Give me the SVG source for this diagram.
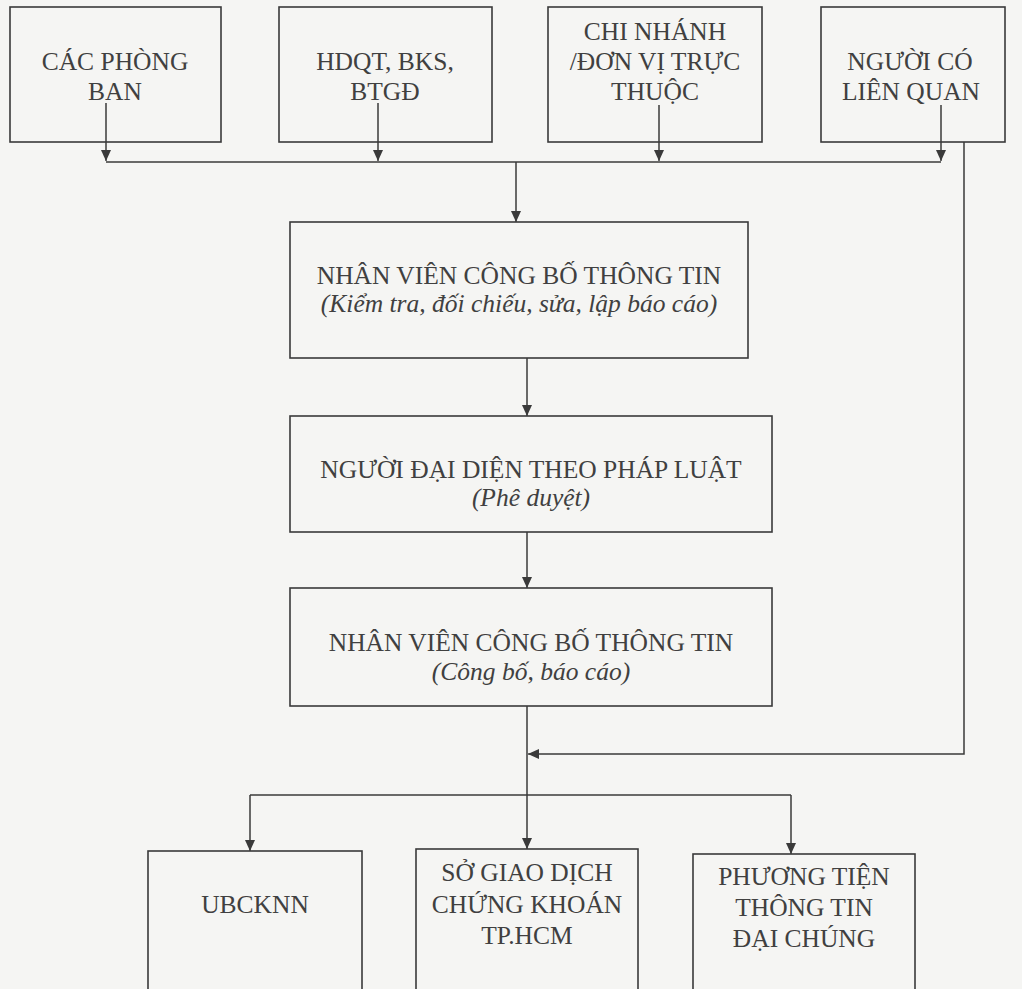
<svg xmlns="http://www.w3.org/2000/svg" width="1022" height="989" viewBox="0 0 1022 989">
<style>
.box{fill:none;stroke:#3a3a3a;stroke-width:1.6}
.t{font-family:"Liberation Serif","Times New Roman",serif;font-size:25.5px;fill:#404040;text-anchor:middle}
.i{font-style:italic}
.c{fill:none;stroke:#3a3a3a;stroke-width:1.5}
.a{marker-end:url(#arr)}
</style>
<defs>
<marker id="arr" markerUnits="userSpaceOnUse" markerWidth="10" markerHeight="10" refX="11" refY="5" orient="auto">
<path d="M0,0 L11,5 L0,10 z" fill="#3a3a3a"/>
</marker>
</defs>
<rect x="0" y="0" width="1022" height="989" fill="#f5f5f3"/>
<g id="connectors">
<path class="c a" d="M106,103 V161"/>
<path class="c a" d="M378,103 V161"/>
<path class="c a" d="M659,105 V161"/>
<path class="c a" d="M941,105 V161"/>
<path class="c" d="M106,162 H941"/>
<path class="c a" d="M516,162 V222"/>
<path class="c a" d="M527,358 V416"/>
<path class="c a" d="M527,532 V588"/>
<path class="c a" d="M527,706 V849"/>
<path class="c" d="M250,795 H791"/>
<path class="c a" d="M250,795 V851"/>
<path class="c a" d="M791,795 V854"/>
<path class="c a" d="M964,142 V754 H528"/>
</g>
<g id="cac-phong-ban">
<rect class="box" x="10" y="7" width="211" height="135"/>
<text class="t" x="115" y="70">CÁC PHÒNG</text>
<text class="t" x="115" y="100">BAN</text>
</g>
<g id="hdqt">
<rect class="box" x="279" y="7" width="213" height="135"/>
<text class="t" x="385" y="70">HDQT, BKS,</text>
<text class="t" x="385" y="100">BTGĐ</text>
</g>
<g id="chi-nhanh">
<rect class="box" x="548" y="7" width="214" height="135"/>
<text class="t" x="655" y="40">CHI NHÁNH</text>
<text class="t" x="655" y="70">/ĐƠN VỊ TRỰC</text>
<text class="t" x="655" y="100">THUỘC</text>
</g>
<g id="nguoi-co-lien-quan">
<rect class="box" x="821" y="7" width="184" height="135"/>
<text class="t" x="910" y="70">NGƯỜI CÓ</text>
<text class="t" x="911" y="100">LIÊN QUAN</text>
</g>
<g id="nhan-vien-1">
<rect class="box" x="290" y="222" width="458" height="136"/>
<text class="t" x="519" y="284">NHÂN VIÊN CÔNG BỐ THÔNG TIN</text>
<text class="t i" x="519" y="312">(Kiểm tra, đối chiếu, sửa, lập báo cáo)</text>
</g>
<g id="nguoi-dai-dien">
<rect class="box" x="290" y="416" width="482" height="116"/>
<text class="t" x="531" y="478">NGƯỜI ĐẠI DIỆN THEO PHÁP LUẬT</text>
<text class="t i" x="531" y="506">(Phê duyệt)</text>
</g>
<g id="nhan-vien-2">
<rect class="box" x="290" y="588" width="482" height="118"/>
<text class="t" x="531" y="651">NHÂN VIÊN CÔNG BỐ THÔNG TIN</text>
<text class="t i" x="531" y="680">(Công bố, báo cáo)</text>
</g>
<g id="ubcknn">
<rect class="box" x="148" y="851" width="214" height="160"/>
<text class="t" x="255" y="913">UBCKNN</text>
</g>
<g id="so-giao-dich">
<rect class="box" x="416" y="849" width="222" height="160"/>
<text class="t" x="527" y="881">SỞ GIAO DỊCH</text>
<text class="t" x="527" y="913">CHỨNG KHOÁN</text>
<text class="t" x="527" y="944">TP.HCM</text>
</g>
<g id="phuong-tien">
<rect class="box" x="693" y="854" width="222" height="160"/>
<text class="t" x="804" y="885">PHƯƠNG TIỆN</text>
<text class="t" x="804" y="916">THÔNG TIN</text>
<text class="t" x="804" y="947">ĐẠI CHÚNG</text>
</g>
</svg>
